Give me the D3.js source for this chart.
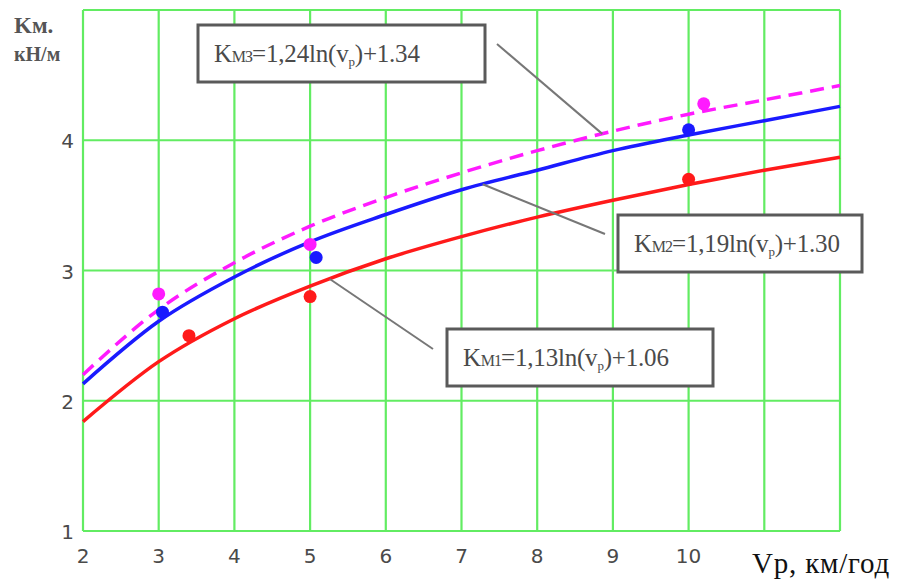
<!DOCTYPE html>
<html>
<head>
<meta charset="utf-8">
<script src="https://cdn.jsdelivr.net/npm/d3@7"></script>
<style>
  body { margin: 0; background: #fff; }
  svg { display: block; }
</style>
</head>
<body>
<svg class="main-svg" width="913" height="579"></svg>
<script>
// values
var xTicks = [2, 3, 4, 5, 6, 7, 8, 9, 10],
    xGrid = [2, 3, 4, 5, 6, 7, 8, 9, 10, 11, 12],
    yTicks = [1, 2, 3, 4, 5];

var curveV = [2, 3, 4, 5, 6, 7, 8, 9, 10, 11, 12];
var curveM1 = [1.84, 2.30, 2.63, 2.88, 3.09, 3.26, 3.41, 3.54, 3.66, 3.77, 3.87],
    curveM2 = [2.13, 2.61, 2.95, 3.22, 3.43, 3.62, 3.77, 3.92, 4.04, 4.15, 4.26],
    curveM3 = [2.20, 2.70, 3.06, 3.34, 3.56, 3.75, 3.92, 4.07, 4.20, 4.31, 4.42];

var pointsM1 = [[3.4, 2.50], [5.0, 2.80], [10.0, 3.70]],
    pointsM2 = [[3.05, 2.68], [5.08, 3.10], [10.0, 4.08]],
    pointsM3 = [[3.0, 2.82], [5.0, 3.20], [10.2, 4.28]];

var labels = [
  {sub: 'МЗ', a: '1,24', b: '1.34'},
  {sub: 'М2', a: '1,19', b: '1.30'},
  {sub: 'М1', a: '1,13', b: '1.06'}
];

var d3 = window.d3;
var svg = d3.select('.main-svg');

var x = d3.scaleLinear().domain([2, 12]).range([83, 840]),
    y = d3.scaleLinear().domain([1, 5]).range([531, 10]);

var grid = '#62ec62';

// grid
svg.append('g').selectAll('line').data(xGrid).enter().append('line')
  .attr('x1', d => x(d)).attr('x2', d => x(d))
  .attr('y1', y(1)).attr('y2', y(5))
  .attr('stroke', grid).attr('stroke-width', 2.2);
svg.append('g').selectAll('line').data(yTicks).enter().append('line')
  .attr('x1', x(2)).attr('x2', x(12))
  .attr('y1', d => y(d)).attr('y2', d => y(d))
  .attr('stroke', grid).attr('stroke-width', 2.2);

// tick labels
var tickFont = '20px "DejaVu Sans"';
svg.append('g').selectAll('text').data(xTicks).enter().append('text')
  .attr('x', d => x(d)).attr('y', 563)
  .attr('text-anchor', 'middle')
  .style('font', tickFont).attr('fill', '#4a4a4a')
  .text(d => d);
svg.append('g').selectAll('text').data(yTicks.slice(0, 4)).enter().append('text')
  .attr('x', 74).attr('y', d => y(d) + 8)
  .attr('text-anchor', 'end')
  .style('font', tickFont).attr('fill', '#4a4a4a')
  .text(d => d);

// axis titles
svg.append('text').attr('x', 14).attr('y', 33)
  .style('font', 'bold 23px "Liberation Serif"').attr('fill', '#555')
  .text('Kм.');
svg.append('text').attr('x', 14).attr('y', 61)
  .style('font', 'bold 20px "Liberation Serif"').attr('fill', '#555')
  .text('кН/м');
svg.append('text').attr('x', 752).attr('y', 573)
  .style('font', '29px "Liberation Serif"').attr('fill', '#111')
  .attr('letter-spacing', 0.8)
  .text('Vp, км/год');

// curves
var line = d3.line()
  .x((d, i) => x(curveV[i]))
  .y(d => y(d))
  .curve(d3.curveMonotoneX);

var series = [
  {vals: curveM1, pts: pointsM1, color: '#ff1a1a', dash: null},
  {vals: curveM2, pts: pointsM2, color: '#1a1aff', dash: null},
  {vals: curveM3, pts: pointsM3, color: '#ff1aff', dash: '14,8'}
];

series.forEach(s => {
  svg.append('path')
    .attr('d', line(s.vals))
    .attr('fill', 'none')
    .attr('stroke', s.color)
    .attr('stroke-width', 3.5)
    .attr('stroke-dasharray', s.dash);
});
series.forEach(s => {
  svg.append('g').selectAll('circle').data(s.pts).enter().append('circle')
    .attr('cx', d => x(d[0])).attr('cy', d => y(d[1]))
    .attr('r', 6.5).attr('fill', s.color);
});

// leader lines: box end -> point on its curve
function curveAt(vals, v) {
  return d3.scaleLinear().domain(curveV).range(vals)(v);
}
var leaders = [
  {x0: 497, y0: 44, v: 8.86, vals: curveM3},
  {x0: 605, y0: 234, v: 7.28, vals: curveM2},
  {x0: 433, y0: 349, v: 5.26, vals: curveM1}
];
leaders.forEach(l => {
  svg.append('line')
    .attr('x1', l.x0).attr('y1', l.y0)
    .attr('x2', x(l.v)).attr('y2', y(curveAt(l.vals, l.v)))
    .attr('stroke', '#777').attr('stroke-width', 2);
});

// formula boxes
var boxes = [
  {x: 198, y: 25, w: 287, h: 57},
  {x: 618, y: 215, w: 244, h: 57},
  {x: 447, y: 329, w: 266, h: 57}
];
boxes.forEach((b, i) => {
  svg.append('rect')
    .attr('x', b.x).attr('y', b.y).attr('width', b.w).attr('height', b.h)
    .attr('fill', '#fff').attr('stroke', '#5a5a5a').attr('stroke-width', 3);
  var lb = labels[i];
  var t = svg.append('text')
    .attr('x', b.x + 16).attr('y', b.y + 37)
    .style('font', '25px "Liberation Serif"').attr('fill', '#4a4a4a')
    .attr('letter-spacing', -0.2);
  t.append('tspan').text('K');
  t.append('tspan').style('font-size', '16px').attr('letter-spacing', -1).text(lb.sub);
  t.append('tspan').text('=' + lb.a + 'ln(v');
  t.append('tspan').style('font-size', '13px').attr('dy', 4).text('p');
  t.append('tspan').attr('dy', -4).text(')+' + lb.b);
});
</script>
</body>
</html>
